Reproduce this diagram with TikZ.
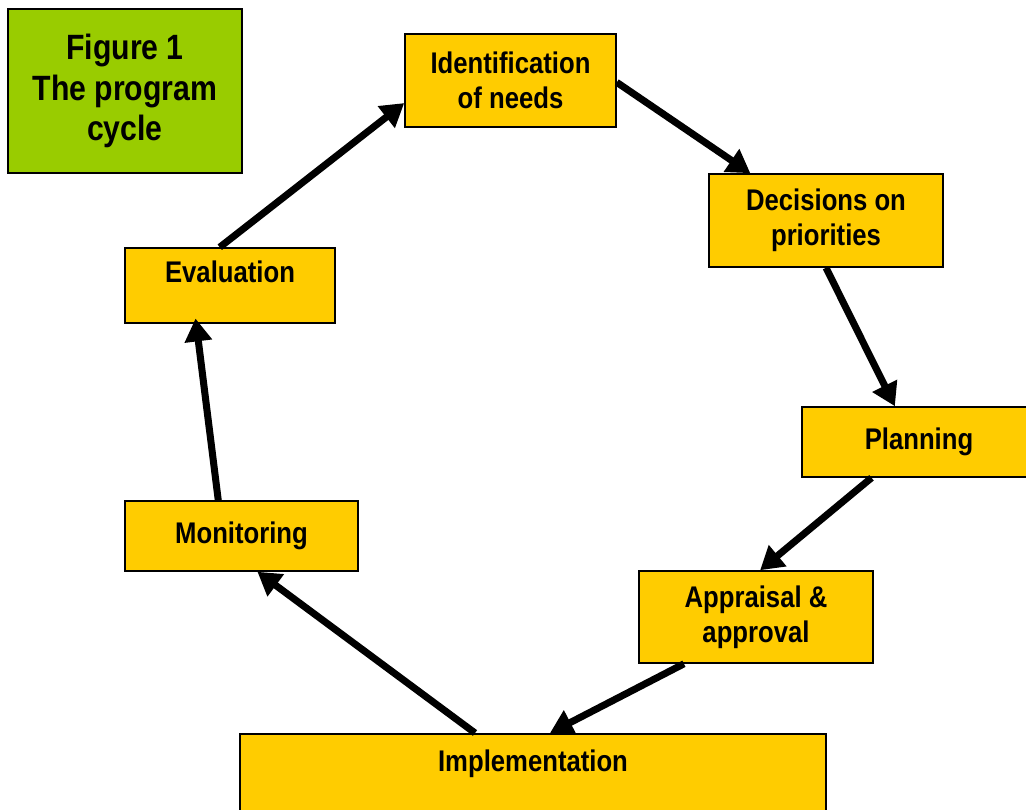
\documentclass[tikz,border=0pt]{standalone}
\usepackage{fontspec}
\setmainfont{Liberation Sans}[FakeStretch=0.86]
\usetikzlibrary{arrows.meta}

\definecolor{boxyellow}{HTML}{FFCC00}
\definecolor{figgreen}{HTML}{99CC00}

\tikzset{
  stagebox/.style={draw=black, line width=0.9pt, fill=boxyellow, align=center,
    font=\fontsize{17}{20}\selectfont\bfseries},
  cyclearrow/.style={line width=4pt, -{Triangle[length=13pt, width=15pt]}}
}

\begin{document}
\begin{tikzpicture}[x=0.02cm, y=-0.02cm]

    % Fix the page to the size of the reference
    \useasboundingbox (0,0) rectangle (1026,810);

    % Title box at the top left
    \node[stagebox, fill=figgreen, minimum width=4.68cm, minimum height=3.28cm,
      font=\fontsize{20}{23}\selectfont\bfseries] (fig) at (125,91)
      {Figure 1\\The program\\cycle};

    % The stages of the cycle
    \node[stagebox, minimum width=4.22cm, minimum height=1.86cm] (ident) at (510.5,80.5)
      {Identification\\of needs};
    \node[stagebox, minimum width=4.68cm, minimum height=1.86cm] (decide) at (826,220.5)
      {Decisions on\\priorities};
    \node[stagebox, minimum width=4.68cm, minimum height=1.40cm] (plan) at (919,442)
      {Planning};
    \node[stagebox, minimum width=4.68cm, minimum height=1.84cm] (appraise) at (756,617)
      {Appraisal \&\\approval};
    % Implementation runs off the bottom edge, text sits at its top
    \node[stagebox, anchor=north, minimum width=11.72cm, inner ysep=9pt,
      text depth=2cm] (impl) at (533,733) {Implementation};
    \node[stagebox, minimum width=4.66cm, minimum height=1.40cm] (monitor) at (241.5,536)
      {Monitoring};
    \node[stagebox, minimum width=4.20cm, minimum height=1.50cm, text depth=0.55cm] (eval) at (230,285.5)
      {Evaluation};

    % Arrows going round the cycle
    \draw[cyclearrow] (eval.105) -- (ident.192);
    \draw[cyclearrow] (ident.-1) -- (decide.148);
    \draw[cyclearrow] (decide.south) -- (plan.124);
    \draw[cyclearrow] (plan.217) -- (appraise.85);
    \draw[cyclearrow] (appraise.213) -- ([xshift=0.34cm]impl.north);
    \draw[cyclearrow] ([xshift=-1.16cm]impl.north) -- (monitor.-66);
    \draw[cyclearrow] (monitor.123) -- ([yshift=3pt]eval.228);

\end{tikzpicture}
\end{document}
